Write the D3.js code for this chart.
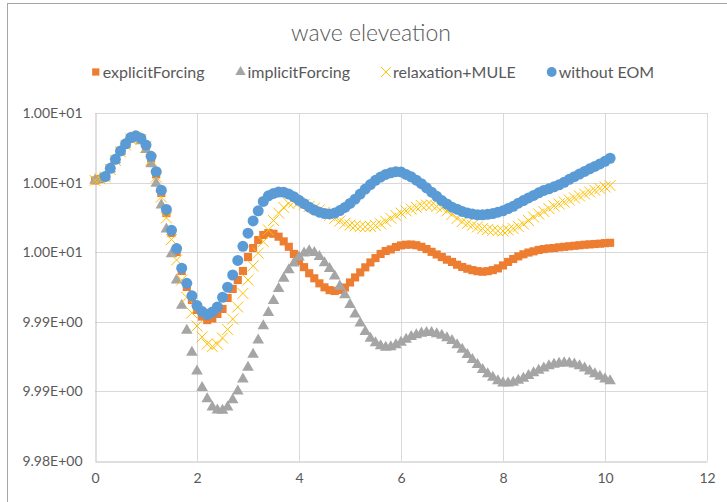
<!DOCTYPE html>
<html>
<head>
<meta charset="utf-8">
<script src="https://cdn.jsdelivr.net/npm/d3@7"></script>
<style>
  body { margin: 0; background: #fff; }
  svg { display: block; font-family: Lato, "Open Sans", sans-serif; }
</style>
</head>
<body>
<svg id="chart" width="727" height="502"></svg>
<script>
// time (s)
const time = [0, 0.1, 0.2, 0.3, 0.4, 0.5, 0.6, 0.7, 0.8, 0.9,
  1, 1.1, 1.2, 1.3, 1.4, 1.5, 1.6, 1.7, 1.8, 1.9,
  2, 2.1, 2.2, 2.3, 2.4, 2.5, 2.6, 2.7, 2.8, 2.9,
  3, 3.1, 3.2, 3.3, 3.4, 3.5, 3.6, 3.7, 3.8, 3.9,
  4, 4.1, 4.2, 4.3, 4.4, 4.5, 4.6, 4.7, 4.8, 4.9,
  5, 5.1, 5.2, 5.3, 5.4, 5.5, 5.6, 5.7, 5.8, 5.9,
  6, 6.1, 6.2, 6.3, 6.4, 6.5, 6.6, 6.7, 6.8, 6.9,
  7, 7.1, 7.2, 7.3, 7.4, 7.5, 7.6, 7.7, 7.8, 7.9,
  8, 8.1, 8.2, 8.3, 8.4, 8.5, 8.6, 8.7, 8.8, 8.9,
  9, 9.1, 9.2, 9.3, 9.4, 9.5, 9.6, 9.7, 9.8, 9.9,
  10, 10.1];

const explicitForcing = [10.00012, 10.00021, 10.00032, 10.00078, 10.00130, 10.00179, 10.00219, 10.00253, 10.00265, 10.00251,
  10.00207, 10.00138, 10.00047, 9.99940, 9.99825, 9.99710, 9.99601, 9.99492, 9.99400, 9.99325,
  9.99268, 9.99230, 9.99210, 9.99219, 9.99245, 9.99274, 9.99337, 9.99389, 9.99440, 9.99492,
  9.99572, 9.99624, 9.99670, 9.99699, 9.99710, 9.99706, 9.99689, 9.99662, 9.99631, 9.99590,
  9.99550, 9.99514, 9.99479, 9.99450, 9.99421, 9.99398, 9.99382, 9.99377, 9.99383, 9.99397,
  9.99426, 9.99455, 9.99484, 9.99513, 9.99541, 9.99566, 9.99590, 9.99607, 9.99616, 9.99630,
  9.99639, 9.99643, 9.99644, 9.99640, 9.99631, 9.99618, 9.99602, 9.99587, 9.99572, 9.99557,
  9.99544, 9.99528, 9.99515, 9.99505, 9.99497, 9.99491, 9.99488, 9.99491, 9.99497, 9.99507,
  9.99524, 9.99544, 9.99561, 9.99576, 9.99588, 9.99598, 9.99605, 9.99613, 9.99618, 9.99622,
  9.99624, 9.99628, 9.99631, 9.99634, 9.99637, 9.99640, 9.99643, 9.99645, 9.99647, 9.99649,
  9.99652, 9.99654];

const implicitForcing = [10.00012, 10.00021, 10.00032, 10.00078, 10.00130, 10.00179, 10.00219, 10.00251, 10.00259, 10.00239,
  10.00190, 10.00107, 9.99995, 9.99871, 9.99733, 9.99590, 9.99440, 9.99294, 9.99150, 9.99024,
  9.98916, 9.98822, 9.98757, 9.98710, 9.98692, 9.98691, 9.98710, 9.98751, 9.98801, 9.98870,
  9.98938, 9.99012, 9.99094, 9.99176, 9.99253, 9.99322, 9.99391, 9.99450, 9.99498, 9.99537,
  9.99572, 9.99594, 9.99607, 9.99597, 9.99574, 9.99538, 9.99505, 9.99462, 9.99404, 9.99355,
  9.99299, 9.99244, 9.99192, 9.99143, 9.99104, 9.99079, 9.99061, 9.99053, 9.99056, 9.99067,
  9.99081, 9.99099, 9.99115, 9.99125, 9.99134, 9.99137, 9.99137, 9.99130, 9.99122, 9.99107,
  9.99091, 9.99067, 9.99041, 9.99011, 9.98982, 9.98953, 9.98925, 9.98900, 9.98880, 9.98860,
  9.98848, 9.98847, 9.98851, 9.98863, 9.98874, 9.98890, 9.98906, 9.98920, 9.98934, 9.98946,
  9.98955, 9.98961, 9.98964, 9.98962, 9.98956, 9.98946, 9.98933, 9.98917, 9.98901, 9.98886,
  9.98871, 9.98860];

const relaxationMULE = [10.00012, 10.00021, 10.00032, 10.00075, 10.00127, 10.00176, 10.00216, 10.00251, 10.00262, 10.00248,
  10.00205, 10.00130, 10.00032, 9.99917, 9.99797, 9.99673, 9.99555, 9.99440, 9.99340, 9.99251,
  9.99176, 9.99113, 9.99072, 9.99058, 9.99072, 9.99107, 9.99156, 9.99216, 9.99285, 9.99363,
  9.99440, 9.99521, 9.99595, 9.99661, 9.99728, 9.99782, 9.99825, 9.99857, 9.99880, 9.99888,
  9.99886, 9.99874, 9.99863, 9.99852, 9.99844, 9.99831, 9.99811, 9.99794, 9.99779, 9.99766,
  9.99756, 9.99751, 9.99747, 9.99746, 9.99748, 9.99753, 9.99763, 9.99778, 9.99795, 9.99811,
  9.99825, 9.99837, 9.99848, 9.99858, 9.99868, 9.99871, 9.99871, 9.99863, 9.99854, 9.99837,
  9.99817, 9.99794, 9.99776, 9.99765, 9.99755, 9.99745, 9.99736, 9.99730, 9.99726, 9.99723,
  9.99722, 9.99728, 9.99736, 9.99748, 9.99762, 9.99782, 9.99802, 9.99820, 9.99834, 9.99851,
  9.99866, 9.99877, 9.99888, 9.99900, 9.99912, 9.99923, 9.99934, 9.99946, 9.99956, 9.99966,
  9.99975, 9.99983];

// no values for the first two time steps
const withoutEOM = [null, null, 10.00035, 10.00082, 10.00134, 10.00182, 10.00223, 10.00259, 10.00269, 10.00255,
  10.00216, 10.00151, 10.00063, 9.99956, 9.99846, 9.99726, 9.99621, 9.99508, 9.99421, 9.99349,
  9.99293, 9.99259, 9.99242, 9.99256, 9.99285, 9.99341, 9.99399, 9.99469, 9.99553, 9.99634,
  9.99709, 9.99780, 9.99838, 9.99892, 9.99924, 9.99938, 9.99946, 9.99945, 9.99934, 9.99918,
  9.99898, 9.99879, 9.99859, 9.99842, 9.99830, 9.99822, 9.99820, 9.99825, 9.99839, 9.99857,
  9.99880, 9.99905, 9.99934, 9.99963, 9.99989, 10.00013, 10.00032, 10.00047, 10.00056, 10.00063,
  10.00061, 10.00047, 10.00033, 10.00014, 9.99994, 9.99970, 9.99945, 9.99921, 9.99897, 9.99877,
  9.99859, 9.99847, 9.99834, 9.99826, 9.99819, 9.99815, 9.99815, 9.99818, 9.99822, 9.99830,
  9.99838, 9.99851, 9.99864, 9.99882, 9.99897, 9.99912, 9.99926, 9.99941, 9.99955, 9.99964,
  9.99976, 9.99987, 10.00002, 10.00019, 10.00034, 10.00049, 10.00064, 10.00079, 10.00093, 10.00107,
  10.00122, 10.00140];

const xTicks = [0, 2, 4, 6, 8, 10, 12];
const yTicks = [9.984, 9.988, 9.992, 9.996, 10.000, 10.004];

const series = [
  { name: "explicitForcing", values: explicitForcing, color: "#ED7D31", symbol: d3.symbolSquare, size: 66, stroke: false },
  { name: "implicitForcing", values: implicitForcing, color: "#A5A5A5", symbol: d3.symbolTriangle, size: 58, stroke: false },
  { name: "relaxation+MULE", values: relaxationMULE, color: "#FFC000", symbol: d3.symbolTimes, size: 80, stroke: true },
  { name: "without EOM", values: withoutEOM, color: "#5B9BD5", symbol: d3.symbolCircle, size: 95, stroke: false }
];

const svg = d3.select("#chart");
const textColor = "#595959";

// chart area border
svg.append("rect")
  .attr("x", 7.5).attr("y", 3.5)
  .attr("width", 740).attr("height", 520)
  .attr("fill", "none")
  .attr("stroke", "#a6a6a6");

const margin = { left: 95, right: 707, top: 113, bottom: 461 };

const x = d3.scaleLinear().domain([0, 12]).range([margin.left, margin.right]);
const y = d3.scaleLinear().domain([9.984, 10.004]).range([margin.bottom, margin.top]);

function expLabel(v) {
  const s = v.toExponential(2).toUpperCase();
  const parts = s.split("E");
  const sign = parts[1][0];
  const ex = parts[1].slice(1).padStart(2, "0");
  return parts[0] + "E" + sign + ex;
}

// gridlines
svg.append("g")
  .selectAll("line")
  .data(xTicks.slice(1))
  .join("line")
  .attr("x1", d => x(d) + 0.5).attr("x2", d => x(d) + 0.5)
  .attr("y1", margin.top).attr("y2", margin.bottom)
  .attr("stroke", "#d9d9d9");

svg.append("g")
  .selectAll("line")
  .data(yTicks.slice(1))
  .join("line")
  .attr("x1", margin.left).attr("x2", margin.right)
  .attr("y1", d => Math.round(y(d)) + 0.5).attr("y2", d => Math.round(y(d)) + 0.5)
  .attr("stroke", "#d9d9d9");

// axes
const xAxis = svg.append("g")
  .attr("transform", `translate(0,${margin.bottom + 0.5})`)
  .call(d3.axisBottom(x).tickValues(xTicks).tickSize(0).tickPadding(12));
const yAxis = svg.append("g")
  .attr("transform", `translate(${margin.left + 0.5},0)`)
  .call(d3.axisLeft(y).tickValues(yTicks).tickSize(0).tickPadding(13).tickFormat(expLabel));

[xAxis, yAxis].forEach(a => {
  a.select(".domain").attr("stroke", "#bfbfbf");
  a.selectAll("text")
    .attr("fill", textColor)
    .style("font-size", "14px")
    .style("font-family", "Lato, 'Open Sans', sans-serif");
});

// markers
series.forEach(s => {
  const pts = time.map((t, i) => ({ t: t, v: s.values[i] })).filter(d => d.v != null);
  const g = svg.append("g");
  const sym = d3.symbol().type(s.symbol).size(s.size);
  g.selectAll("path")
    .data(pts)
    .join("path")
    .attr("transform", d => `translate(${x(d.t)},${y(d.v)})`)
    .attr("d", sym)
    .attr("fill", s.stroke ? "none" : s.color)
    .attr("stroke", s.stroke ? s.color : "none")
    .attr("stroke-width", s.stroke ? 1 : 0);
});

// title
svg.append("text")
  .attr("x", 371).attr("y", 41)
  .attr("text-anchor", "middle")
  .attr("fill", textColor)
  .style("font-size", "23px")
  .style("font-weight", 300)
  .text("wave eleveation");

// legend
const legend = svg.append("g");
let lx = 0;
series.forEach(s => {
  const item = legend.append("g").attr("transform", `translate(${lx},0)`);
  item.append("path")
    .attr("transform", "translate(4,0)")
    .attr("d", d3.symbol().type(s.symbol).size(s.size * 0.8))
    .attr("fill", s.stroke ? "none" : s.color)
    .attr("stroke", s.stroke ? s.color : "none");
  const txt = item.append("text")
    .attr("x", 11).attr("y", 6)
    .attr("fill", textColor)
    .style("font-size", "16px")
    .text(s.name);
  lx += 11 + txt.node().getComputedTextLength() + 32;
});
const legendWidth = lx - 32;
legend.attr("transform", `translate(${373 - legendWidth / 2},72)`);
</script>
</body>
</html>
